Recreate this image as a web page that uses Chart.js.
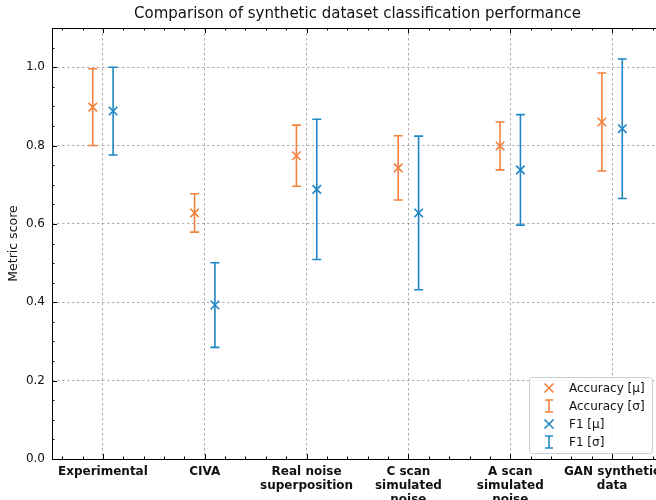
<!DOCTYPE html>
<html>
<head>
<meta charset="utf-8">
<script src="https://cdn.jsdelivr.net/npm/chart.js@4"></script>
<style>
html, body { margin: 0; padding: 0; background: #fff; overflow: hidden; }
#wrap { width: 656px; height: 500px; overflow: hidden; }
</style>
</head>
<body>
<div id="wrap"><canvas id="chart" width="710" height="500"></canvas></div>
<script>
// categories and values
const categories = [
    ['Experimental'],
    ['CIVA'],
    ['Real noise', 'superposition'],
    ['C scan', 'simulated', 'noise'],
    ['A scan', 'simulated', 'noise'],
    ['GAN synthetic', 'data']
];
const accMean = [0.898, 0.628, 0.774, 0.743, 0.799, 0.860];
const accStd  = [0.098, 0.049, 0.078, 0.082, 0.061, 0.125];
const f1Mean  = [0.888, 0.393, 0.688, 0.628, 0.738, 0.843];
const f1Std   = [0.112, 0.108, 0.179, 0.196, 0.141, 0.178];
const yTicks  = [0, 0.2, 0.4, 0.6, 0.8, 1.0];

const TITLE  = 'Comparison of synthetic dataset classification performance';
const ORANGE = '#f4813c';
const BLUE   = '#1f87c5';
const FONT   = 'DejaVu Sans';
const OFFSET = 0.1;

var series = [
    { label: 'Accuracy', mean: accMean, std: accStd, color: ORANGE, off: -OFFSET },
    { label: 'F1',       mean: f1Mean,  std: f1Std,  color: BLUE,   off:  OFFSET },
]

// vertical error bars with caps
const errorBars = {
    id: 'errorBars',
    beforeDatasetsDraw(chart) {
        const ctx = chart.ctx, xs = chart.scales.x, ys = chart.scales.y
        ctx.save()
        ctx.lineWidth = 1.6
        series.forEach(s => {
            ctx.strokeStyle = s.color
            s.mean.forEach((m, i) => {
                const x = xs.getPixelForValue(i + s.off)
                const y1 = ys.getPixelForValue(m + s.std[i])
                const y2 = ys.getPixelForValue(m - s.std[i])
                ctx.beginPath()
                ctx.moveTo(x, y1); ctx.lineTo(x, y2)
                ctx.moveTo(x - 4.5, y1); ctx.lineTo(x + 4.5, y1)
                ctx.moveTo(x - 4.5, y2); ctx.lineTo(x + 4.5, y2)
                ctx.stroke()
            })
        })
        ctx.restore()
    }
}

// frame, inward ticks on every side, title centred on the axes, legend box
const frame = {
    id: 'frame',
    afterDraw(chart) {
        const ctx = chart.ctx, a = chart.chartArea, xs = chart.scales.x, ys = chart.scales.y
        ctx.save()
        ctx.strokeStyle = '#000'
        ctx.lineWidth = 1
        ctx.beginPath()
        for (let v = 0; v <= 1.1001; v += 0.05) {
            const y = Math.round(ys.getPixelForValue(v)) + 0.5
            const major = Math.abs(v / 0.2 - Math.round(v / 0.2)) < 1e-6
            const len = major ? 5 : 2.5
            ctx.moveTo(a.left, y); ctx.lineTo(a.left + len, y)
            ctx.moveTo(a.right, y); ctx.lineTo(a.right - len, y)
        }
        for (let v = -0.4; v <= 5.5; v += 0.2) {
            const x = Math.round(xs.getPixelForValue(v)) + 0.5
            const major = Math.abs(v - Math.round(v)) < 1e-6
            const len = major ? 5 : 2.5
            ctx.moveTo(x, a.bottom); ctx.lineTo(x, a.bottom - len)
            ctx.moveTo(x, a.top); ctx.lineTo(x, a.top + len)
        }
        ctx.stroke()
        ctx.strokeRect(a.left + 0.5, a.top + 0.5, a.right - a.left, a.bottom - a.top)

        // title
        ctx.fillStyle = '#111'
        ctx.font = '15px "' + FONT + '"'
        ctx.textAlign = 'center'
        ctx.textBaseline = 'middle'
        ctx.fillText(TITLE, (a.left + a.right) / 2, 14)

        // legend
        const lx = 529, ly = 377
        ctx.textAlign = 'left'
        ctx.fillStyle = 'rgba(255,255,255,0.85)'
        ctx.strokeStyle = '#cccccc'
        ctx.beginPath()
        ctx.roundRect(lx + 0.5, ly + 0.5, 123, 76, 3)
        ctx.fill(); ctx.stroke()
        const rows = [
            ['x', ORANGE, 'Accuracy [μ]'],
            ['I', ORANGE, 'Accuracy [σ]'],
            ['x', BLUE, 'F1 [μ]'],
            ['I', BLUE, 'F1 [σ]'],
        ]
        ctx.font = '12px "' + FONT + '"'
        ctx.lineWidth = 1.6
        rows.forEach((r, k) => {
            const cx = 549, cy = ly + 11 + k * 18
            ctx.strokeStyle = r[1]
            ctx.beginPath()
            if (r[0] === 'x') {
                ctx.moveTo(cx - 4.5, cy - 4.5); ctx.lineTo(cx + 4.5, cy + 4.5)
                ctx.moveTo(cx - 4.5, cy + 4.5); ctx.lineTo(cx + 4.5, cy - 4.5)
            } else {
                ctx.moveTo(cx, cy - 6); ctx.lineTo(cx, cy + 6)
                ctx.moveTo(cx - 4, cy - 6); ctx.lineTo(cx + 4, cy - 6)
                ctx.moveTo(cx - 4, cy + 6); ctx.lineTo(cx + 4, cy + 6)
            }
            ctx.stroke()
            ctx.fillStyle = '#111'
            ctx.fillText(r[2], 569, cy + 1)
        })
        ctx.restore()
    }
}

var datasets = series.map(s => ({
    label: s.label + ' [μ]',
    data: s.mean.map((m, i) => ({ x: i + s.off, y: m })),
    pointStyle: 'crossRot',
    pointRadius: 6,
    pointBorderWidth: 1.6,
    borderColor: s.color,
    backgroundColor: s.color,
    showLine: false
}))

new Chart(document.getElementById('chart').getContext('2d'), {
    type: 'scatter',
    data: { datasets: datasets },
    options: {
        responsive: false,
        animation: false,
        layout: { padding: { left: 0, right: 47, top: 28, bottom: 0 } },
        plugins: {
            legend: { display: false },
            tooltip: { enabled: false },
            title: { display: false }
        },
        scales: {
            x: {
                type: 'linear',
                min: -0.5,
                max: 5.5,
                afterBuildTicks: scale => { scale.ticks = categories.map((c, i) => ({ value: i })) },
                afterFit: scale => { scale.height = 41 },
                ticks: {
                    autoSkip: false,
                    maxRotation: 0,
                    padding: 6,
                    color: '#111',
                    font: { family: FONT, size: 12, weight: 'bold', lineHeight: 1.17 },
                    callback: v => categories[v]
                },
                grid: { drawTicks: false, color: 'rgba(0,0,0,0.4)', lineWidth: 0.8 },
                border: { display: false, dash: [2.5, 2.5] }
            },
            y: {
                min: 0,
                max: 1.1,
                afterBuildTicks: scale => { scale.ticks = yTicks.map(v => ({ value: v })) },
                afterFit: scale => { scale.width = 52 },
                ticks: {
                    padding: 7,
                    color: '#111',
                    font: { family: FONT, size: 12 },
                    callback: v => v.toFixed(1)
                },
                title: {
                    display: true,
                    text: 'Metric score',
                    color: '#111',
                    font: { family: FONT, size: 12.5 },
                    padding: { top: 6, bottom: 0 }
                },
                grid: { drawTicks: false, color: 'rgba(0,0,0,0.4)', lineWidth: 0.8 },
                border: { display: false, dash: [2.5, 2.5] }
            }
        }
    },
    plugins: [errorBars, frame]
})
</script>
</body>
</html>
